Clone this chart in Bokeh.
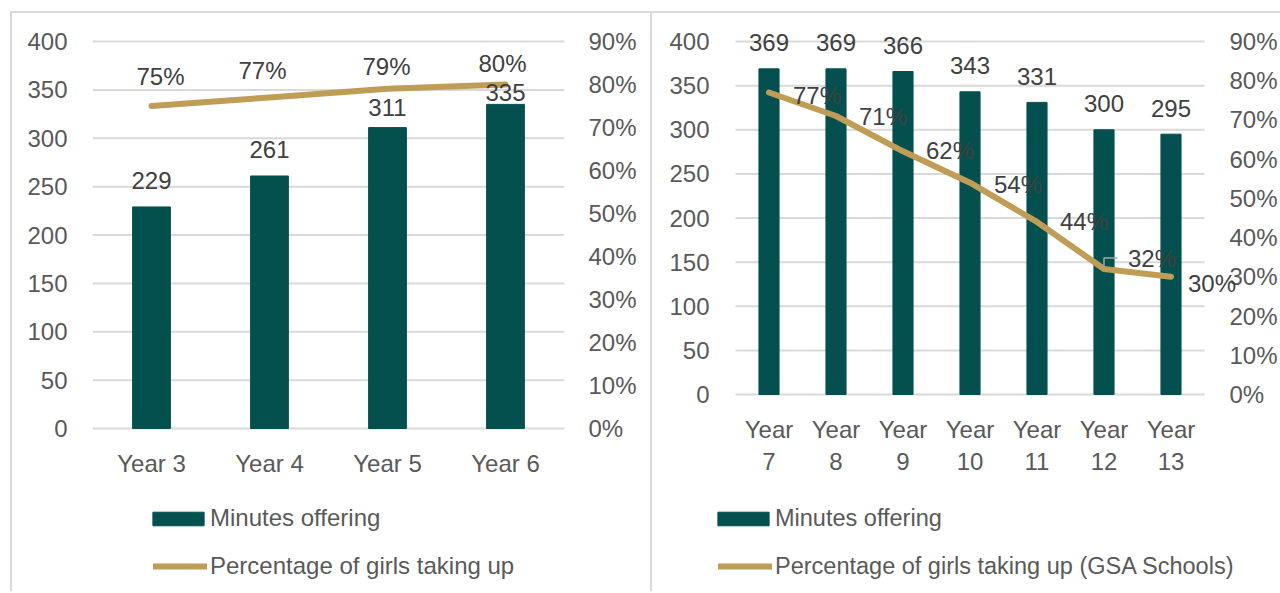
from bokeh.plotting import figure
from bokeh.layouts import row
from bokeh.models import (ColumnDataSource, Range1d, LinearAxis, FixedTicker,
                          PrintfTickFormatter, Legend, LegendItem, LabelSet)
from bokeh.core.properties import value
from bokeh.embed import file_html
from bokeh.resources import INLINE

# Primary school years
primary_years = ["Year 3", "Year 4", "Year 5", "Year 6"]
primary_minutes = [229, 261, 311, 335]
primary_pct = [75, 77, 79, 80]

# Secondary school years
secondary_years = ["Year 7", "Year 8", "Year 9", "Year 10", "Year 11", "Year 12", "Year 13"]
secondary_minutes = [369, 369, 366, 343, 331, 300, 295]
secondary_pct = [77, 71, 62, 54, 44, 32, 30]

minutes_ticks = [0, 50, 100, 150, 200, 250, 300, 350, 400]
pct_ticks = [0, 10, 20, 30, 40, 50, 60, 70, 80, 90]

FONT = "Liberation Sans"
TEAL = "#03504e"
GOLD = "#bf9d56"
GRID = "#d9d9d9"
TICK = "#595959"
LABEL = "#404040"
BORDER = "2px solid #d9d9d9"

CANVAS_TOP = 13      # page y of the canvas top
GRID_TOP = 41        # page y of the 400 / 90% gridline
PAGE_BOTTOM = 593
LEGEND_ROWS = (518, 566)   # page y of the two legend rows
ROW_H = 28


def style_axis(ax, standoff):
    ax.axis_line_color = None
    ax.major_tick_line_color = None
    ax.minor_tick_line_color = None
    ax.major_tick_out = 0
    ax.major_tick_in = 0
    ax.minor_tick_out = 0
    ax.minor_tick_in = 0
    ax.major_label_text_font = FONT
    ax.major_label_text_font_size = "24px"
    ax.major_label_text_color = TICK
    ax.major_label_standoff = standoff


def legend_box(item, frame_left, text_left, glyph_w, glyph_h, standoff, row_y, font):
    return Legend(items=[item],
                  location=(text_left - standoff - glyph_w - frame_left,
                            PAGE_BOTTOM - (row_y + ROW_H / 2)),
                  orientation="vertical",
                  glyph_width=glyph_w, glyph_height=glyph_h, label_standoff=standoff,
                  label_height=ROW_H, spacing=0, padding=0, margin=0,
                  border_line_color=None, background_fill_alpha=0,
                  label_text_font=FONT, label_text_font_size=font,
                  label_text_color=TICK)


def build(years, minutes, pct, tick_lines, canvas_left, canvas_width,
          frame_x, grid_x, zero_y, left_standoff, right_standoff, bar_width,
          bar_label_dy, pct_dx, pct_dy, pct_align, cat_dy, legend_text,
          legend_text_left, legend_font):
    n = len(years)
    xs = list(range(n))
    data = dict(
        x=xs, zero=[0] * n, minutes=minutes, pct=pct,
        mlab=[str(m) for m in minutes],
        plab=[f"{v}%" for v in pct],
        mdy=[-d for d in bar_label_dy], pdx=pct_dx, pdy=[-d for d in pct_dy],
    )
    for k, line_text in enumerate(tick_lines):
        data[f"cat{k}"] = line_text
    src = ColumnDataSource(data)

    height = PAGE_BOTTOM - CANVAS_TOP
    unit = (zero_y - GRID_TOP) / 400.0                   # pixels per minute
    y_top = 400 + (GRID_TOP - CANVAS_TOP) / unit
    y_bottom = -(PAGE_BOTTOM - zero_y) / unit
    ux = (grid_x[1] - grid_x[0]) / n                     # pixels per category
    x_start = -0.5 - (grid_x[0] - frame_x[0]) / ux
    x_end = n - 0.5 + (frame_x[1] - grid_x[1]) / ux

    p = figure(width=canvas_width, height=height, output_backend="svg",
               toolbar_location=None,
               x_range=Range1d(x_start, x_end), y_range=Range1d(y_bottom, y_top),
               x_axis_location=None,
               min_border_left=frame_x[0] - canvas_left,
               min_border_right=canvas_left + canvas_width - frame_x[1],
               min_border_top=0, min_border_bottom=0,
               outline_line_color=None, background_fill_color="white",
               border_fill_color="white")
    p.extra_y_ranges = {"pct": Range1d(y_bottom * 90 / 400, y_top * 90 / 400)}

    p.xgrid.visible = False
    p.ygrid.visible = False
    # horizontal gridlines across the category band
    p.segment(x0=-0.5, x1=n - 0.5, y0=minutes_ticks, y1=minutes_ticks,
              line_color=GRID, line_width=2, level="underlay")

    p.yaxis.ticker = FixedTicker(ticks=minutes_ticks)
    style_axis(p.yaxis[0], left_standoff)

    right_axis = LinearAxis(y_range_name="pct", ticker=FixedTicker(ticks=pct_ticks),
                            formatter=PrintfTickFormatter(format="%d%%"))
    style_axis(right_axis, right_standoff)
    p.add_layout(right_axis, "right")

    bars = p.vbar(x="x", top="minutes", width=bar_width, source=src,
                  fill_color=TEAL, line_color=TEAL)
    line = p.line(x="x", y="pct", source=src, y_range_name="pct",
                  line_color=GOLD, line_width=6, line_cap="round", line_join="round")

    text_style = dict(text_font=value(FONT), text_font_size="24px", text_baseline="middle")
    # category names under the zero line, one LabelSet per text line
    for k in range(len(tick_lines)):
        p.add_layout(LabelSet(x="x", y="zero", text=f"cat{k}", source=src,
                              y_offset=-(cat_dy + 32 * k), text_align="center",
                              text_color=TICK, **text_style))
    # value labels
    p.add_layout(LabelSet(x="x", y="minutes", text="mlab", source=src, y_offset="mdy",
                          text_align="center", text_color=LABEL, **text_style))
    p.add_layout(LabelSet(x="x", y="pct", text="plab", source=src, y_range_name="pct",
                          x_offset="pdx", y_offset="pdy", text_align=pct_align,
                          text_color=LABEL, **text_style))

    # legend: the bar swatch is inset by Bokeh, so it gets a wider glyph box
    p.add_layout(legend_box(LegendItem(label=legend_text[0], renderers=[bars]),
                            frame_x[0], legend_text_left, 64, 17, 0,
                            LEGEND_ROWS[0], legend_font))
    p.add_layout(legend_box(LegendItem(label=legend_text[1], renderers=[line]),
                            frame_x[0], legend_text_left, 54, 14, 3,
                            LEGEND_ROWS[1], legend_font))
    return p


p1 = build(primary_years, primary_minutes, primary_pct, [primary_years],
           canvas_left=12, canvas_width=642, frame_x=(92, 564), grid_x=(92, 564),
           zero_y=428, left_standoff=25, right_standoff=24, bar_width=0.32,
           bar_label_dy=[-26, -26, -20, -12],
           pct_dx=[9, -7, -1, -3], pct_dy=[-30, -27, -22, -21], pct_align="center",
           cat_dy=35,
           legend_text=["Minutes offering", "Percentage of girls taking up"],
           legend_text_left=210, legend_font="24px")
p1.margin = (11, 0, 0, 10)
p1.styles = {"border-top": BORDER, "border-left": BORDER, "border-right": BORDER}

p2 = build(secondary_years, secondary_minutes, secondary_pct,
           [[y.split(" ")[0] for y in secondary_years],
            [y.split(" ")[1] for y in secondary_years]],
           canvas_left=652, canvas_width=628, frame_x=(716, 1240), grid_x=(735, 1204),
           zero_y=394, left_standoff=7, right_standoff=-11, bar_width=0.3,
           bar_label_dy=[-26] * 7,
           pct_dx=[24, 23, 23, 24, 23, 24, 17], pct_dy=[3, 0, -1, 2, 0, -10, 7],
           pct_align="left", cat_dy=35,
           legend_text=["Minutes offering", "Percentage of girls taking up (GSA Schools)"],
           legend_text_left=775, legend_font="23.5px")
p2.margin = (11, 0, 0, 0)
p2.styles = {"border-top": BORDER}

# leader line tying the Year 12 label to its point
p2.line(x=[5, 5, 5.2], y=[secondary_pct[5] + 0.8, secondary_pct[5] + 2.8, secondary_pct[5] + 2.8],
        y_range_name="pct", line_color="#a6a6a6", line_width=1.5)

open("out.html", "w").write(file_html(row(p1, p2), INLINE))
